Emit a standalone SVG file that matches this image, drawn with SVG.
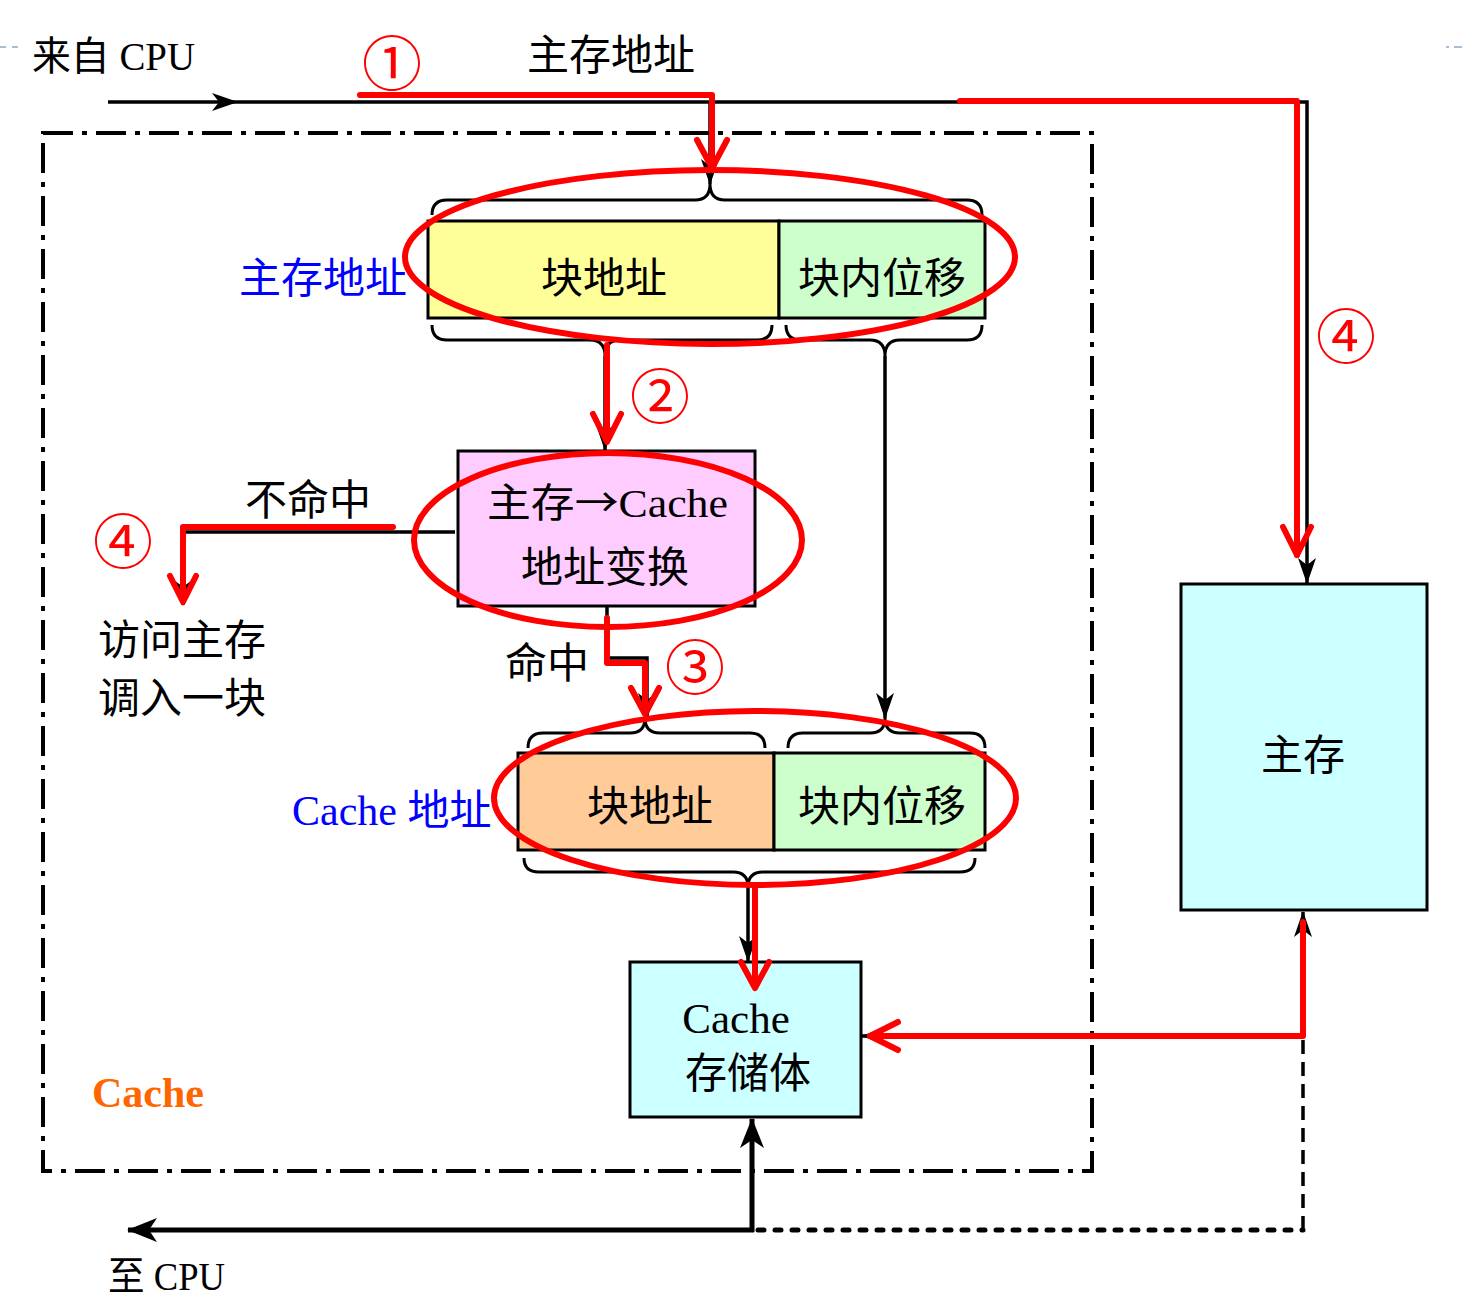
<svg xmlns="http://www.w3.org/2000/svg" width="1464" height="1308" viewBox="0 0 1464 1308">
<style>
text{font-family:"Liberation Serif","Noto Sans CJK SC",serif;fill:#000}
.t40{font-size:40px}
.t42{font-size:42px}
.blue{fill:#0000FF}
.num{font-family:"Noto Sans CJK SC",sans-serif;font-size:60px;fill:#FF0000;text-anchor:middle}
.mid{text-anchor:middle}
.cjk{font-family:"Noto Sans CJK SC",sans-serif}
.box{stroke:#000;stroke-width:3}
.brace{fill:none;stroke:#000;stroke-width:3}
.bl{fill:none;stroke:#000;stroke-width:3.5}
.blk{fill:none;stroke:#000;stroke-width:5}
.red{fill:none;stroke:#FF0000;stroke-width:6;stroke-linecap:round;stroke-linejoin:round}
.ell{fill:none;stroke:#FF0000;stroke-width:6}
</style>
<defs>
<marker id="ah" viewBox="0 0 26 18" refX="25" refY="9" markerWidth="26" markerHeight="18" markerUnits="userSpaceOnUse" orient="auto"><path d="M0,0 L26,9 L0,18 L7,9 z" fill="#000"/></marker>
<marker id="ahL" viewBox="0 0 30 24" refX="29" refY="12" markerWidth="30" markerHeight="24" markerUnits="userSpaceOnUse" orient="auto"><path d="M0,0 L30,12 L0,24 L8,12 z" fill="#000"/></marker>
</defs>
<rect width="1464" height="1308" fill="#fff"/>
<g id="decor">
<line x1="0" y1="47" x2="22" y2="47" stroke="#A8BCD2" stroke-width="2" stroke-dasharray="6 6"/>
<line x1="1446" y1="47" x2="1464" y2="47" stroke="#A8BCD2" stroke-width="2" stroke-dasharray="3 5 8 4"/>
</g>
<g id="cache-boundary">
<rect x="43" y="133" width="1049" height="1038" fill="none" stroke="#000" stroke-width="4" stroke-dasharray="30 9 5 9"/>
<text x="92" y="1107" style="font-family:'Liberation Serif',serif;font-weight:bold;font-size:42px;fill:#FF6600">Cache</text>
</g>
<g id="main-address">
<rect class="box" x="428" y="221" width="351" height="97" fill="#FFFF99"/>
<rect class="box" x="779" y="221" width="206" height="97" fill="#CCFFCC"/>
<text class="t42 mid" x="604" y="293">块地址</text>
<text class="t42 mid" x="882" y="293">块内位移</text>
<text class="t42 blue mid" x="323" y="293">主存地址</text>
<path class="brace" d="M432,215 Q432,200 447,200 H695 Q710,200 710,184 Q710,200 725,200 H967 Q982,200 982,215"/>
<path class="brace" d="M432,325 Q432,340 447,340 H590 Q605,340 605,356 Q605,340 620,340 H757 Q772,340 772,325"/>
<path class="brace" d="M786,325 Q786,340 801,340 H870 Q885,340 885,356 Q885,340 900,340 H967 Q982,340 982,325"/>
</g>
<g id="translate">
<rect class="box" x="458" y="451" width="297" height="155" fill="#FFCCFF"/>
<text class="t40" x="487" y="517" textLength="241" lengthAdjust="spacingAndGlyphs">主存<tspan class="cjk">→</tspan>Cache</text>
<text class="t42 mid" x="605" y="582">地址变换</text>
</g>
<g id="cache-address">
<rect class="box" x="518" y="753" width="256" height="97" fill="#FFCC99"/>
<rect class="box" x="774" y="753" width="211" height="97" fill="#CCFFCC"/>
<text class="t42 mid" x="650" y="821">块地址</text>
<text class="t42 mid" x="882" y="821">块内位移</text>
<text class="t42 blue" x="292" y="825">Cache 地址</text>
<path class="brace" d="M528,748 Q528,733 543,733 H630 Q645,733 645,718 Q645,733 660,733 H750 Q765,733 765,748"/>
<path class="brace" d="M788,748 Q788,733 803,733 H870 Q885,733 885,718 Q885,733 900,733 H970 Q985,733 985,748"/>
<path class="brace" d="M524,858 Q524,872 539,872 H733 Q748,872 748,887 Q748,872 763,872 H960 Q975,872 975,858"/>
</g>
<g id="cache-store">
<rect class="box" x="630" y="962" width="231" height="155" fill="#CCFFFF"/>
<text class="mid" x="736" y="1033" style="font-size:43px">Cache</text>
<text class="t42 mid" x="748" y="1088">存储体</text>
</g>
<g id="main-memory">
<rect class="box" x="1181" y="584" width="246" height="326" fill="#CCFFFF"/>
<text class="t42 mid" x="1303" y="770">主存</text>
</g>
<g id="labels">
<text class="t40" x="32" y="70" textLength="163" lengthAdjust="spacingAndGlyphs">来自 CPU</text>
<text class="t42 mid" x="611" y="70">主存地址</text>
<text class="t42" x="245" y="515">不命中</text>
<text class="t42" x="98" y="655">访问主存</text>
<text class="t42" x="98" y="713">调入一块</text>
<text class="t42" x="505" y="678">命中</text>
<text class="t40" x="108" y="1290" textLength="117" lengthAdjust="spacingAndGlyphs">至 CPU</text>
</g>
<g id="connectors">
<g id="black-paths">
<path class="bl" d="M108,102 H237" marker-end="url(#ah)"/>
<path class="bl" d="M237,102 H1307 V583" marker-end="url(#ah)"/>
<path class="bl" d="M710,102 V184" marker-end="url(#ah)"/>
<path class="bl" d="M605,356 V450" marker-end="url(#ah)"/>
<path class="bl" d="M885,356 V718" marker-end="url(#ah)"/>
<path class="bl" d="M455,532 H183 V605" marker-end="url(#ah)"/>
<path class="bl" d="M607,606 V658 H647 V718" marker-end="url(#ah)"/>
<path class="bl" d="M748,887 V961" marker-end="url(#ah)"/>
<path class="bl" d="M1303,1036 V912" marker-end="url(#ah)"/>
<path class="bl" d="M1303,1036 H862" marker-end="url(#ah)"/>
<path class="bl" d="M1303,1040 V1228" stroke-dasharray="14 8"/>
<path d="M758,1230 H1303" fill="none" stroke="#000" stroke-width="5" stroke-linecap="round" stroke-dasharray="6 11"/>
<path class="blk" d="M752,1232 V1119" marker-end="url(#ahL)"/>
<path class="blk" d="M754,1230 H128" marker-end="url(#ahL)"/>
</g>
<g id="red-paths">
<path class="red" d="M360,95 H712 V165"/>
<path class="red" d="M697,140 L712,168 L727,140"/>
<path class="red" d="M960,101 H1297 V555"/>
<path class="red" d="M1283,527 L1297,555 L1311,527"/>
<path class="red" d="M607,345 V440"/>
<path class="red" d="M593,414 L607,442 L621,414"/>
<path class="red" d="M393,527 H183 V600"/>
<path class="red" d="M170,576 L183,602 L196,576"/>
<path class="red" d="M607,618 V663 H645 V712"/>
<path class="red" d="M631,688 L645,714 L659,688"/>
<path class="red" d="M755,887 V987"/>
<path class="red" d="M741,962 L755,988 L769,962"/>
<path class="red" d="M1303,922 V1036 H870"/>
<path class="red" d="M898,1022 L870,1036 L898,1050"/>
</g>
</g>
<g id="highlights">
<ellipse class="ell" cx="710" cy="257" rx="305" ry="87"/>
<ellipse class="ell" cx="608" cy="540" rx="194" ry="87"/>
<ellipse class="ell" cx="755" cy="798" rx="261" ry="87"/>
<text class="num" x="392" y="86">①</text>
<text class="num" x="660" y="419">②</text>
<text class="num" x="695" y="690">③</text>
<text class="num" x="123" y="564">④</text>
<text class="num" x="1346" y="359">④</text>
</g>
</svg>
